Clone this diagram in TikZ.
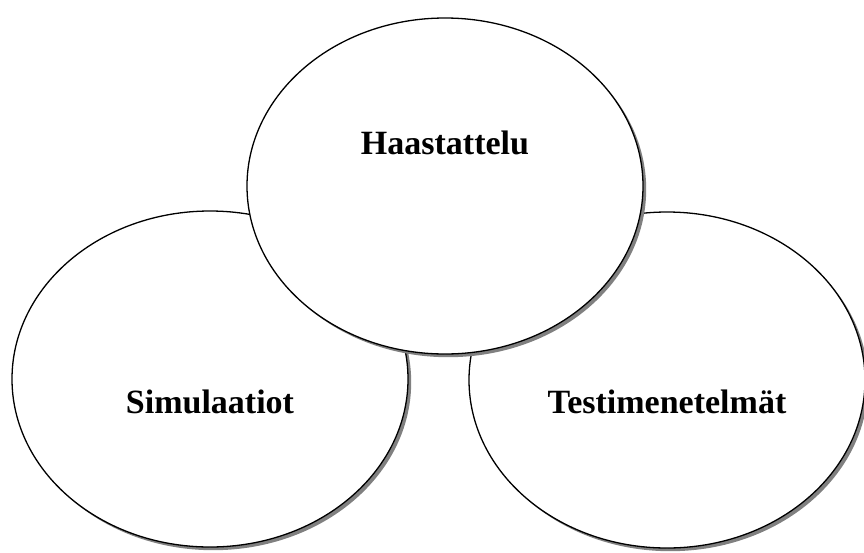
\documentclass[tikz,border=0pt]{standalone}
\usepackage{fontspec}
\setmainfont{Liberation Serif}
\usetikzlibrary{shapes.geometric,shadows,positioning}
\tikzset{
  bubble/.style={ellipse,draw=black,line width=1.3pt,fill=white,inner sep=0pt,
    minimum width=396pt,minimum height=336pt,
    drop shadow={shadow xshift=3.2pt,shadow yshift=-3.2pt,fill=black!50,opacity=1}},
  word/.style={font=\fontsize{34}{40}\selectfont\bfseries,inner sep=0pt},
}
\begin{document}
\begin{tikzpicture}[x=1pt,y=-1pt]
  \useasboundingbox (0,0) rectangle (864,552);
  % the three fields
  \node[bubble] (sim) at (210,379) {};
  \node[bubble] (test) at (667,380) {};
  \node[bubble] (haas) at (445,186) {};
  % labels
  \node[word] (simtxt) at ([yshift=-23pt]sim.center) {Simulaatiot};
  \node[word] (testtxt) at ([yshift=-22pt]test.center) {Testimenetelmät};
  \node[word] (haastxt) at ([yshift=43pt]haas.center) {Haastattelu};
\end{tikzpicture}
\end{document}
